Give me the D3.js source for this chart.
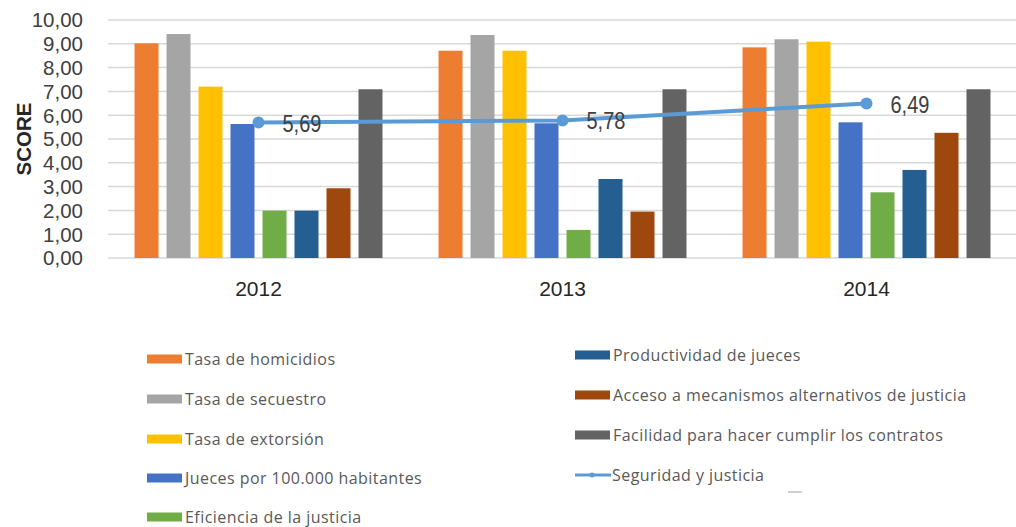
<!DOCTYPE html>
<html>
<head>
<meta charset="utf-8">
<script src="https://cdnjs.cloudflare.com/ajax/libs/d3/7.8.5/d3.min.js"></script>
<style>
  body { margin: 0; background: #fff; }
  svg { display: block; }
</style>
</head>
<body>
<div id="chart"></div>
<script>
// data
var years = ["2012", "2013", "2014"];
var seriesNames = [
  "Tasa de homicidios",
  "Tasa de secuestro",
  "Tasa de extorsión",
  "Jueces por 100.000 habitantes",
  "Eficiencia de la justicia",
  "Productividad de jueces",
  "Acceso a mecanismos alternativos de justicia",
  "Facilidad para hacer cumplir los contratos"
];
var seriesColors = ["#ED7D31", "#A5A5A5", "#FFC000", "#4472C4", "#70AD47", "#255E91", "#9E480E", "#636363"];
var tasaHomicidios   = [9.02, 8.71, 8.85];
var tasaSecuestro    = [9.41, 9.37, 9.19];
var tasaExtorsion    = [7.20, 8.71, 9.09];
var jueces           = [5.63, 5.66, 5.70];
var eficiencia       = [1.99, 1.18, 2.76];
var productividad    = [1.99, 3.32, 3.70];
var accesoMecanismos = [2.93, 1.95, 5.26];
var facilidad        = [7.09, 7.09, 7.09];
var lineName = "Seguridad y justicia";
var lineColor = "#5B9BD5";
var seguridad = [5.69, 5.78, 6.49];
var yTicks = [0, 1, 2, 3, 4, 5, 6, 7, 8, 9, 10];

var barValues = [tasaHomicidios, tasaSecuestro, tasaExtorsion, jueces,
                 eficiencia, productividad, accesoMecanismos, facilidad];

var width = 1016, height = 527;
var svg = d3.select("#chart").append("svg")
            .attr("width", width)
            .attr("height", height);

var locale = d3.formatLocale({decimal: ",", thousands: ".", grouping: [3], currency: ["", ""]});
var fmt = locale.format(".2f");

// scales
var x0 = d3.scaleBand().domain(years).range([106.5, 1018.5])
           .paddingInner(0.158).paddingOuter(0.079);
var x1 = d3.scaleBand().domain(d3.range(seriesNames.length))
           .range([0, x0.bandwidth()]).paddingInner(0.25).paddingOuter(0.125);
var y = d3.scaleLinear().domain([0, 10]).range([258, 20]);

// gridlines
svg.append("g").selectAll("line")
    .data(yTicks).enter().append("line")
    .attr("x1", 108).attr("x2", width)
    .attr("y1", function(d) { return y(d); })
    .attr("y2", function(d) { return y(d); })
    .attr("stroke", "#d9d9d9")
    .attr("stroke-width", 1.5);

// y axis labels
var yAxis = svg.append("g")
    .attr("transform", "translate(83,0)")
    .call(d3.axisLeft(y).tickValues(yTicks).tickFormat(fmt).tickSize(0).tickPadding(0));
yAxis.select(".domain").remove();
yAxis.selectAll("text")
    .attr("font-family", "Liberation Sans, Arial, sans-serif")
    .attr("font-size", 20.5)
    .attr("fill", "#404040")
    .attr("dy", "0.34em");

svg.append("text")
    .attr("transform", "translate(31,139) rotate(-90)")
    .attr("text-anchor", "middle")
    .attr("font-family", "Liberation Sans, Arial, sans-serif")
    .attr("font-weight", "bold")
    .attr("font-size", 20.5)
    .attr("fill", "#262626")
    .text("SCORE");

// x axis labels
var xAxis = svg.append("g")
    .attr("transform", "translate(0,283)")
    .call(d3.axisBottom(x0).tickSize(0).tickPadding(0));
xAxis.select(".domain").remove();
xAxis.selectAll("text")
    .attr("font-family", "Liberation Sans, Arial, sans-serif")
    .attr("font-size", 21)
    .attr("fill", "#262626")
    .attr("dy", "0.62em");

// bars
var groups = svg.append("g").selectAll("g")
    .data(years).enter().append("g")
    .attr("transform", function(d) { return "translate(" + x0(d) + ",0)"; });

groups.selectAll("rect")
    .data(function(d, yi) {
        return barValues.map(function(vals, si) { return {s: si, v: vals[yi]}; });
    })
    .enter().append("rect")
    .attr("x", function(d) { return x1(d.s); })
    .attr("width", x1.bandwidth())
    .attr("y", function(d) { return y(d.v); })
    .attr("height", function(d) { return y(0) - y(d.v); })
    .attr("fill", function(d) { return seriesColors[d.s]; });

// line series
var linePts = years.map(function(yr, i) { return {x: x0(yr) + x0.bandwidth() / 2, v: seguridad[i]}; });
svg.append("path")
    .datum(linePts)
    .attr("d", d3.line().x(function(d) { return d.x; }).y(function(d) { return y(d.v); }))
    .attr("fill", "none")
    .attr("stroke", lineColor)
    .attr("stroke-width", 4);

svg.append("g").selectAll("circle")
    .data(linePts).enter().append("circle")
    .attr("cx", function(d) { return d.x; })
    .attr("cy", function(d) { return y(d.v); })
    .attr("r", 6)
    .attr("fill", lineColor);

svg.append("g").selectAll("text")
    .data(linePts).enter().append("text")
    .attr("transform", function(d) { return "translate(" + (d.x + 24) + "," + (y(d.v) + 9) + ") scale(1,1.15)"; })
    .attr("font-family", "Liberation Sans, Arial, sans-serif")
    .attr("font-size", 20)
    .attr("fill", "#404040")
    .text(function(d) { return fmt(d.v); });

// legend
var legendItems = seriesNames.map(function(n, i) { return {name: n, color: seriesColors[i], line: false}; });
legendItems.push({name: lineName, color: lineColor, line: true});
var legendPos = [
  [147, 359], [147, 399], [147, 439], [147, 478], [147, 517],
  [575, 355], [575, 395], [575, 435], [575, 475]
];

var legend = svg.append("g").selectAll("g")
    .data(legendItems).enter().append("g")
    .attr("transform", function(d, i) { return "translate(" + legendPos[i][0] + "," + legendPos[i][1] + ")"; });

legend.filter(function(d) { return !d.line; }).append("rect")
    .attr("x", 0).attr("y", -4.5)
    .attr("width", 35).attr("height", 9)
    .attr("fill", function(d) { return d.color; });

legend.filter(function(d) { return d.line; }).append("line")
    .attr("x1", 0).attr("x2", 36).attr("y1", 0).attr("y2", 0)
    .attr("stroke", function(d) { return d.color; })
    .attr("stroke-width", 3);
legend.filter(function(d) { return d.line; }).append("circle")
    .attr("cx", 17).attr("cy", 0).attr("r", 2.5)
    .attr("fill", function(d) { return d.color; });

legend.append("text")
    .attr("x", function(d) { return d.line ? 37 : 38; })
    .attr("y", 0)
    .attr("dy", "0.35em")
    .attr("font-family", "Open Sans, sans-serif")
    .attr("font-size", 16)
    .attr("letter-spacing", 0.45)
    .attr("fill", "#595959")
    .text(function(d) { return d.name; });

// small stray mark under the legend
svg.append("line")
    .attr("x1", 788).attr("x2", 802).attr("y1", 492).attr("y2", 492)
    .attr("stroke", "#bfbfbf").attr("stroke-width", 1.5);
</script>
</body>
</html>
